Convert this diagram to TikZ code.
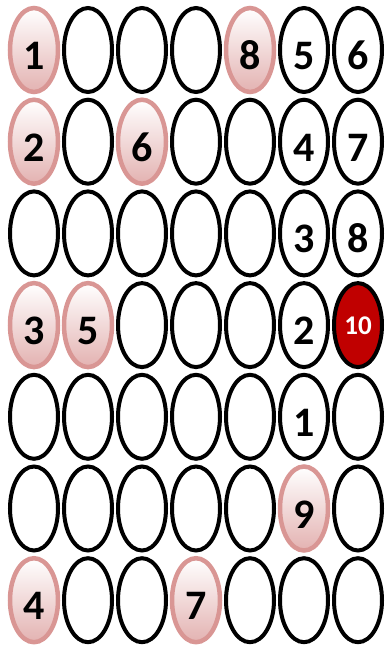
\documentclass[tikz,border=0pt]{standalone}
\usepackage{fontspec}
\setmainfont{Carlito}
\usetikzlibrary{shapes.geometric}
\definecolor{pinkedge}{HTML}{D99694}
\definecolor{pinkfill}{HTML}{E3B2B1}
\definecolor{darkred}{HTML}{C00000}
\tikzset{
  ovalwhite/.style={ellipse, draw=black, line width=4pt, fill=white,
    minimum width=48pt, minimum height=84pt, inner sep=0pt,
    font=\bfseries\fontsize{42}{42}\selectfont, text height=39pt, text depth=0pt},
  ovalpink/.style={ovalwhite, draw=pinkedge, line width=4.5pt,
    top color=white, bottom color=pinkfill},
  ovalred/.style={ovalwhite, fill=darkred, text=white,
    font=\bfseries\fontsize{27}{27}\selectfont, text height=18pt}
}
\newcommand{\ovalcell}[4]{%
  \pgfmathsetmacro{\cx}{34+54*(#1-1)}
  \pgfmathsetmacro{\cy}{50+91.7*(#2-1)}
  \node[#3] (c#2#1) at (\cx,\cy) {#4};
}

\begin{document}
\begin{tikzpicture}[x=1pt, y=-1pt]
  \useasboundingbox (0,0) rectangle (384,646);

  % ---------- row 1 ----------
  \ovalcell{1}{1}{ovalpink}{1}
  \ovalcell{2}{1}{ovalwhite}{}
  \ovalcell{3}{1}{ovalwhite}{}
  \ovalcell{4}{1}{ovalwhite}{}
  \ovalcell{5}{1}{ovalpink}{8}
  \ovalcell{6}{1}{ovalwhite}{5}
  \ovalcell{7}{1}{ovalwhite}{6}

  % ---------- row 2 ----------
  \ovalcell{1}{2}{ovalpink}{2}
  \ovalcell{2}{2}{ovalwhite}{}
  \ovalcell{3}{2}{ovalpink}{6}
  \ovalcell{4}{2}{ovalwhite}{}
  \ovalcell{5}{2}{ovalwhite}{}
  \ovalcell{6}{2}{ovalwhite}{4}
  \ovalcell{7}{2}{ovalwhite}{7}

  % ---------- row 3 ----------
  \ovalcell{1}{3}{ovalwhite}{}
  \ovalcell{2}{3}{ovalwhite}{}
  \ovalcell{3}{3}{ovalwhite}{}
  \ovalcell{4}{3}{ovalwhite}{}
  \ovalcell{5}{3}{ovalwhite}{}
  \ovalcell{6}{3}{ovalwhite}{3}
  \ovalcell{7}{3}{ovalwhite}{8}

  % ---------- row 4 ----------
  \ovalcell{1}{4}{ovalpink}{3}
  \ovalcell{2}{4}{ovalpink}{5}
  \ovalcell{3}{4}{ovalwhite}{}
  \ovalcell{4}{4}{ovalwhite}{}
  \ovalcell{5}{4}{ovalwhite}{}
  \ovalcell{6}{4}{ovalwhite}{2}
  \ovalcell{7}{4}{ovalred}{10}

  % ---------- row 5 ----------
  \ovalcell{1}{5}{ovalwhite}{}
  \ovalcell{2}{5}{ovalwhite}{}
  \ovalcell{3}{5}{ovalwhite}{}
  \ovalcell{4}{5}{ovalwhite}{}
  \ovalcell{5}{5}{ovalwhite}{}
  \ovalcell{6}{5}{ovalwhite}{1}
  \ovalcell{7}{5}{ovalwhite}{}

  % ---------- row 6 ----------
  \ovalcell{1}{6}{ovalwhite}{}
  \ovalcell{2}{6}{ovalwhite}{}
  \ovalcell{3}{6}{ovalwhite}{}
  \ovalcell{4}{6}{ovalwhite}{}
  \ovalcell{5}{6}{ovalwhite}{}
  \ovalcell{6}{6}{ovalpink}{9}
  \ovalcell{7}{6}{ovalwhite}{}

  % ---------- row 7 ----------
  \ovalcell{1}{7}{ovalpink}{4}
  \ovalcell{2}{7}{ovalwhite}{}
  \ovalcell{3}{7}{ovalwhite}{}
  \ovalcell{4}{7}{ovalpink}{7}
  \ovalcell{5}{7}{ovalwhite}{}
  \ovalcell{6}{7}{ovalwhite}{}
  \ovalcell{7}{7}{ovalwhite}{}
\end{tikzpicture}
\end{document}
